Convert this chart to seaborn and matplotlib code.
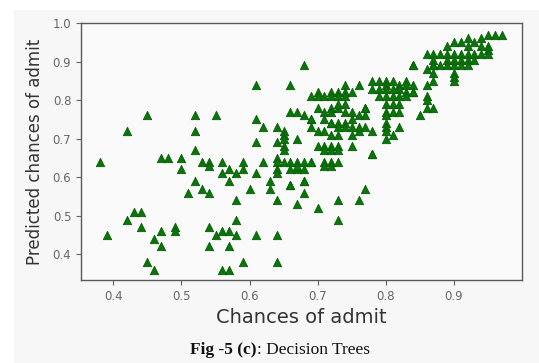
import matplotlib
matplotlib.use("Agg")
import matplotlib.pyplot as plt
import seaborn as sns
import pandas as pd
from matplotlib.patches import Rectangle

# ---- data ----
actual = [
    0.38, 0.39, 0.42, 0.42, 0.43, 0.44, 0.44, 0.45, 0.45, 0.46, 0.46, 0.47, 0.48, 0.47, 0.47, 0.49, 0.49, 0.50, 0.50, 0.51,
    0.52, 0.55, 0.52, 0.52, 0.53, 0.54, 0.54, 0.56, 0.59, 0.62, 0.57, 0.56, 0.58, 0.59, 0.61, 0.52, 0.57, 0.63, 0.53, 0.54,
    0.60, 0.63, 0.58, 0.58, 0.54, 0.55, 0.56, 0.57, 0.58, 0.61, 0.54, 0.57, 0.59, 0.56, 0.57,
    0.61, 0.61, 0.62, 0.61,
    0.64, 0.65, 0.65, 0.64, 0.65, 0.65, 0.65, 0.64, 0.64, 0.65, 0.66, 0.67, 0.68, 0.69, 0.64, 0.64, 0.66, 0.67, 0.68, 0.67,
    0.66, 0.68, 0.64, 0.64, 0.64,
    0.68, 0.66, 0.74, 0.76,
    0.70, 0.72, 0.73, 0.74, 0.75, 0.69, 0.70, 0.71, 0.72, 0.73, 0.74,
    0.66, 0.67, 0.68, 0.69, 0.70, 0.71, 0.72, 0.73, 0.74, 0.75, 0.77, 0.73, 0.74, 0.77,
    0.69, 0.69, 0.70, 0.71, 0.72, 0.73, 0.74, 0.75, 0.76, 0.77, 0.72, 0.72,
    0.71, 0.72, 0.73, 0.75, 0.76, 0.73, 0.74, 0.75, 0.76, 0.77,
    0.67, 0.70, 0.71, 0.72, 0.73, 0.75, 0.71, 0.72, 0.73, 0.71, 0.72, 0.73, 0.71, 0.72, 0.69, 0.78,
    0.68, 0.66, 0.68, 0.77, 0.67, 0.73, 0.76, 0.70, 0.73,
    0.78, 0.79, 0.80, 0.80, 0.81, 0.82, 0.83, 0.83, 0.84,
    0.78, 0.79, 0.80, 0.81, 0.82, 0.83, 0.84,
    0.79, 0.80, 0.81, 0.82, 0.83, 0.84,
    0.80, 0.81, 0.82, 0.80, 0.80, 0.80, 0.80, 0.80, 0.81, 0.82, 0.82, 0.81, 0.80, 0.78, 0.78,
    0.84, 0.86, 0.87, 0.86, 0.87, 0.86, 0.86, 0.86, 0.87, 0.85,
    0.97, 0.96, 0.95, 0.94, 0.92,
    0.89, 0.90, 0.91, 0.92, 0.93, 0.94, 0.95, 0.95,
    0.86, 0.87, 0.88, 0.89, 0.90, 0.91, 0.92, 0.93, 0.94, 0.95,
    0.87, 0.89, 0.90, 0.91, 0.92, 0.93,
    0.84, 0.87, 0.88, 0.89, 0.90, 0.91, 0.92,
    0.87, 0.90, 0.90, 0.90,
]
predicted = [
    0.64, 0.45, 0.72, 0.49, 0.51, 0.51, 0.47, 0.76, 0.38, 0.44, 0.36, 0.65, 0.65, 0.46, 0.42, 0.47, 0.46, 0.65, 0.62, 0.56,
    0.76, 0.76, 0.72, 0.67, 0.64, 0.64, 0.63, 0.64, 0.64, 0.64, 0.62, 0.61, 0.61, 0.62, 0.61, 0.59, 0.59, 0.59, 0.57, 0.56,
    0.57, 0.57, 0.54, 0.49, 0.47, 0.45, 0.46, 0.46, 0.45, 0.45, 0.42, 0.42, 0.38, 0.36, 0.36,
    0.84, 0.75, 0.73, 0.69,
    0.73, 0.72, 0.71, 0.69, 0.70, 0.68, 0.67, 0.65, 0.64, 0.64, 0.64, 0.64, 0.64, 0.64, 0.62, 0.61, 0.62, 0.62, 0.62, 0.63,
    0.58, 0.59, 0.54, 0.45, 0.38,
    0.89, 0.84, 0.84, 0.84,
    0.82, 0.82, 0.82, 0.82, 0.82, 0.81, 0.81, 0.81, 0.81, 0.81, 0.81,
    0.77, 0.77, 0.76, 0.75, 0.78, 0.77, 0.78, 0.78, 0.77, 0.77, 0.78, 0.79, 0.79, 0.78,
    0.75, 0.73, 0.72, 0.75, 0.74, 0.74, 0.74, 0.75, 0.76, 0.76, 0.77, 0.74,
    0.72, 0.71, 0.71, 0.71, 0.72, 0.73, 0.73, 0.73, 0.73, 0.73,
    0.70, 0.68, 0.68, 0.68, 0.68, 0.68, 0.67, 0.67, 0.67, 0.64, 0.64, 0.64, 0.63, 0.63, 0.64, 0.66,
    0.59, 0.58, 0.56, 0.57, 0.53, 0.54, 0.54, 0.52, 0.49,
    0.85, 0.85, 0.85, 0.84, 0.85, 0.84, 0.85, 0.84, 0.84,
    0.83, 0.83, 0.83, 0.83, 0.83, 0.82, 0.82,
    0.81, 0.81, 0.81, 0.81, 0.81, 0.82,
    0.79, 0.79, 0.79, 0.77, 0.76, 0.74, 0.73, 0.72, 0.77, 0.77, 0.73, 0.71, 0.70, 0.72, 0.66,
    0.89, 0.88, 0.89, 0.84, 0.85, 0.81, 0.80, 0.78, 0.78, 0.76,
    0.97, 0.97, 0.97, 0.96, 0.96,
    0.94, 0.95, 0.95, 0.94, 0.95, 0.94, 0.94, 0.93,
    0.92, 0.92, 0.92, 0.92, 0.92, 0.92, 0.92, 0.92, 0.92, 0.92,
    0.905, 0.905, 0.905, 0.905, 0.905, 0.905,
    0.89, 0.89, 0.89, 0.89, 0.89, 0.89, 0.89,
    0.87, 0.87, 0.86, 0.85,
]
x_ticks = [0.4, 0.5, 0.6, 0.7, 0.8, 0.9]
y_ticks = [0.4, 0.5, 0.6, 0.7, 0.8, 0.9, 1.0]
x_label = "Chances of admit"
y_label = "Predicted chances of admit"
caption_bold = "Fig -5 (c)"
caption_rest = ": Decision Trees"

df = pd.DataFrame({"actual": actual, "predicted": predicted})

W, H = 539, 363
fig = plt.figure(figsize=(W / 100, H / 100), dpi=100, facecolor="white")
# light gray page background
fig.patches.append(Rectangle((14 / W, 0), 1 - 14 / W, (H - 10) / H,
                             transform=fig.transFigure, facecolor="#f7f7f7",
                             edgecolor="none", zorder=-10))
ax = fig.add_axes([81 / W, (H - 280) / H, 441 / W, 257 / H])
ax.set_facecolor("#fafafa")

sns.scatterplot(data=df, x="actual", y="predicted", marker="^", color="#0a760a",
                edgecolor="#065c06", linewidth=0.6, s=36, ax=ax, zorder=3)

ax.set_xlim(0.3525, 1.0)
ax.set_ylim(0.333, 1.0)
ax.set_xticks(x_ticks)
ax.set_yticks(y_ticks)
ax.set_xticklabels([f"{t:.1f}" for t in x_ticks])
ax.set_yticklabels([f"{t:.1f}" for t in y_ticks])
ax.tick_params(labelsize=8.5, colors="#666666", length=3.5, width=0.8)
for sp in ax.spines.values():
    sp.set_visible(True)
    sp.set_color("#5a5a5a")
    sp.set_linewidth(1.0)
ax.set_xlabel(x_label, fontsize=14, color="#333333", labelpad=4)
ax.set_ylabel(y_label, fontsize=12, color="#333333", labelpad=6)

# caption
cap1 = fig.text(0.0, 0.0, caption_bold, fontsize=12.5, fontweight="bold",
                family="Liberation Serif", color="#111111")
cap2 = fig.text(0.0, 0.0, caption_rest, fontsize=12.5, family="Liberation Serif", color="#111111")
fig.canvas.draw()
r = fig.canvas.get_renderer()
w1 = cap1.get_window_extent(r).width
w2 = cap2.get_window_extent(r).width
x0 = (280 - (w1 + w2) / 2) / W
yc = (H - 354) / H
cap1.set_position((x0, yc))
cap2.set_position((x0 + w1 / W, yc))

fig.savefig("out.png", dpi=100, facecolor=fig.get_facecolor())
